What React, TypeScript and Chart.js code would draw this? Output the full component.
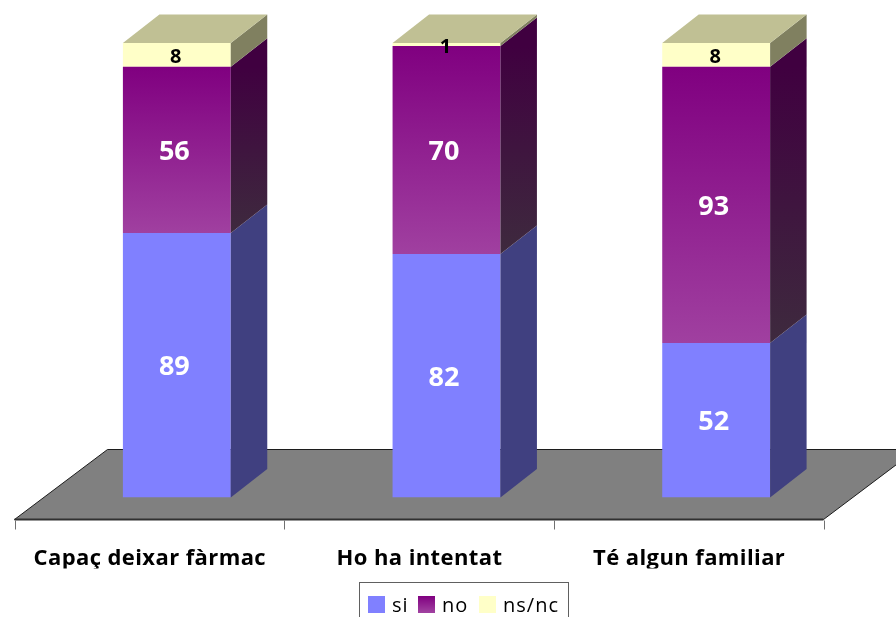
import React, { useEffect, useRef } from "react";
import { Chart, registerables } from "chart.js";

Chart.register(...registerables);

const categories = ["Capaç deixar fàrmac", "Ho ha intentat", "Té algun familiar"];
const si = [89, 82, 52];
const no = [56, 70, 93];
const nsnc = [8, 1, 8];
const seriesNames = ["si", "no", "ns/nc"];

const FONT = '"Open Sans", sans-serif';
// Oblique projection of the bars' depth.
const DEPTH_X = 36.5;
const DEPTH_Y = 28.5;
// Offset of the front floor edge from the bars' baseline, and the floor's own depth.
const FLOOR_FRONT_X = 27.5;
const FLOOR_FRONT_Y = 22;
const FLOOR_BACK_X = 93;
const FLOOR_BACK_Y = 70;

const PURPLE_TOP = "#800080";
const PURPLE_BOTTOM = "#A040A0";

function purpleFill(context: any) {
  const chart = context.chart;
  const yScale = chart.scales.y;
  if (!yScale || context.dataIndex === undefined) return PURPLE_BOTTOM;
  const i = context.dataIndex;
  const top = yScale.getPixelForValue(si[i] + no[i]);
  const bottom = yScale.getPixelForValue(si[i]);
  if (!Number.isFinite(top) || !Number.isFinite(bottom)) return PURPLE_BOTTOM;
  const g = chart.ctx.createLinearGradient(0, top, 0, bottom);
  g.addColorStop(0, PURPLE_TOP);
  g.addColorStop(1, PURPLE_BOTTOM);
  return g;
}

function sideFace(ctx: any, x: number, top: number, bottom: number, fill: any) {
  ctx.fillStyle = fill;
  ctx.beginPath();
  ctx.moveTo(x, top);
  ctx.lineTo(x + DEPTH_X, top - DEPTH_Y);
  ctx.lineTo(x + DEPTH_X, bottom - DEPTH_Y);
  ctx.lineTo(x, bottom);
  ctx.closePath();
  ctx.fill();
}

// Floor, category ticks and spaced-out axis text.
const floorPlugin = {
  id: "floor",
  beforeDraw(chart: any) {
    chart.ctx.letterSpacing = "0.4px";
  },
  beforeDatasetsDraw(chart: any) {
    const { ctx, scales } = chart;
    ctx.letterSpacing = "0px";
    const left = scales.x.left - FLOOR_FRONT_X;
    const right = scales.x.right - FLOOR_FRONT_X;
    const front = scales.y.bottom + FLOOR_FRONT_Y;
    const back = front - FLOOR_BACK_Y;
    ctx.save();
    ctx.fillStyle = "#808080";
    ctx.beginPath();
    ctx.moveTo(left, front);
    ctx.lineTo(left + FLOOR_BACK_X, back);
    ctx.lineTo(right + FLOOR_BACK_X, back);
    ctx.lineTo(right, front);
    ctx.closePath();
    ctx.fill();
    ctx.strokeStyle = "#1c1c1c";
    ctx.lineWidth = 1;
    ctx.stroke();
    ctx.strokeStyle = "#303030";
    ctx.lineWidth = 2;
    ctx.beginPath();
    ctx.moveTo(left, front);
    ctx.lineTo(right, front);
    ctx.stroke();
    ctx.strokeStyle = "#707070";
    ctx.lineWidth = 1;
    const step = (right - left) / categories.length;
    for (let i = 0; i <= categories.length; i++) {
      const x = Math.round(left + step * i) + 0.5;
      ctx.beginPath();
      ctx.moveTo(x, front + 1);
      ctx.lineTo(x, front + 10);
      ctx.stroke();
    }
    ctx.restore();
  },
};

// Side and top faces of each stacked segment, built from the bar elements.
const depthPlugin = {
  id: "depth",
  afterDatasetsDraw(chart: any) {
    const { ctx } = chart;
    ctx.save();
    const metas = chart.getSortedVisibleDatasetMetas();
    metas.forEach((meta: any, s: number) => {
      meta.data.forEach((bar: any) => {
        const right = bar.x + bar.width / 2;
        const left = bar.x - bar.width / 2;
        let fill: any = s === 0 ? "#404080" : "#808060";
        if (s === 1) {
          fill = ctx.createLinearGradient(0, bar.y, 0, bar.base);
          fill.addColorStop(0, "#400040");
          fill.addColorStop(1, "#3E2A3E");
        }
        sideFace(ctx, right, bar.y, bar.base, fill);
        if (s === metas.length - 1) {
          ctx.fillStyle = "#C0C094";
          ctx.beginPath();
          ctx.moveTo(left, bar.y);
          ctx.lineTo(left + DEPTH_X, bar.y - DEPTH_Y);
          ctx.lineTo(right + DEPTH_X, bar.y - DEPTH_Y);
          ctx.lineTo(right, bar.y);
          ctx.closePath();
          ctx.fill();
        }
      });
    });
    ctx.restore();
  },
};

// Value labels centred on each segment's front face.
const valueLabelPlugin = {
  id: "valueLabels",
  afterDraw(chart: any) {
    const { ctx } = chart;
    ctx.save();
    ctx.textAlign = "center";
    ctx.textBaseline = "middle";
    chart.getSortedVisibleDatasetMetas().forEach((meta: any, s: number) => {
      const values = chart.data.datasets[meta.index].data;
      meta.data.forEach((bar: any, i: number) => {
        const small = s === 2;
        ctx.fillStyle = small ? "#000000" : "#FFFFFF";
        ctx.font = `bold ${small ? 20 : 27}px ${FONT}`;
        const x = bar.x - (small ? 1 : 2.5);
        ctx.fillText(String(values[i]), x, (bar.y + bar.base) / 2 + 2.5);
      });
    });
    ctx.restore();
  },
};

// Boxed key below the axis; it runs past the lower edge of the canvas.
const keyPlugin = {
  id: "key",
  afterDraw(chart: any) {
    const { ctx } = chart;
    const swatchX = [368, 418, 479];
    const textX = [392, 442, 503];
    ctx.save();
    ctx.strokeStyle = "#606060";
    ctx.lineWidth = 1;
    ctx.strokeRect(359.5, 582.5, 209, 60);
    ctx.font = `20px ${FONT}`;
    ctx.letterSpacing = "1px";
    ctx.textAlign = "left";
    ctx.textBaseline = "alphabetic";
    seriesNames.forEach((name, i) => {
      const ds = chart.data.datasets[i];
      let fill: any = ds.backgroundColor;
      if (typeof fill === "function") {
        fill = ctx.createLinearGradient(0, 596, 0, 612);
        fill.addColorStop(0, PURPLE_TOP);
        fill.addColorStop(1, PURPLE_BOTTOM);
      }
      ctx.fillStyle = fill;
      ctx.fillRect(swatchX[i], 596, 17, 17);
      ctx.fillStyle = "#000000";
      ctx.fillText(name, textX[i], 612);
    });
    ctx.restore();
  },
};

export default function App() {
  const canvasRef = useRef<HTMLCanvasElement | null>(null);

  useEffect(() => {
    const chart = new Chart(canvasRef.current as HTMLCanvasElement, {
      type: "bar",
      data: {
        labels: categories,
        datasets: [
          { label: seriesNames[0], data: si, backgroundColor: "#8080FF" },
          { label: seriesNames[1], data: no, backgroundColor: purpleFill },
          { label: seriesNames[2], data: nsnc, backgroundColor: "#FFFFC8" },
        ],
      } as any,
      options: {
        animation: false,
        responsive: false,
        layout: { padding: { left: 42, right: 45, top: 43, bottom: 48.5 } },
        datasets: { bar: { barPercentage: 0.4, categoryPercentage: 1, borderWidth: 0 } },
        plugins: { legend: { display: false }, tooltip: { enabled: false }, title: { display: false } },
        scales: {
          x: {
            stacked: true,
            grid: { display: false },
            border: { display: false },
            afterFit(scale: any) {
              scale.height = 71;
            },
            ticks: {
              autoSkip: false,
              maxRotation: 0,
              padding: 40,
              labelOffset: -27,
              color: "#000000",
              font: { family: FONT, weight: "bold", size: 22 },
            },
          },
          y: { stacked: true, display: false, min: 0, max: 153 },
        },
      } as any,
      plugins: [floorPlugin, depthPlugin, valueLabelPlugin, keyPlugin],
    });
    return () => chart.destroy();
  }, []);

  return (
    <div style={{ position: "fixed", left: 0, top: 0, width: 896, height: 617, overflow: "hidden", background: "#FFFFFF" }}>
      <canvas ref={canvasRef} width={896} height={617} style={{ display: "block" }} />
    </div>
  );
}
